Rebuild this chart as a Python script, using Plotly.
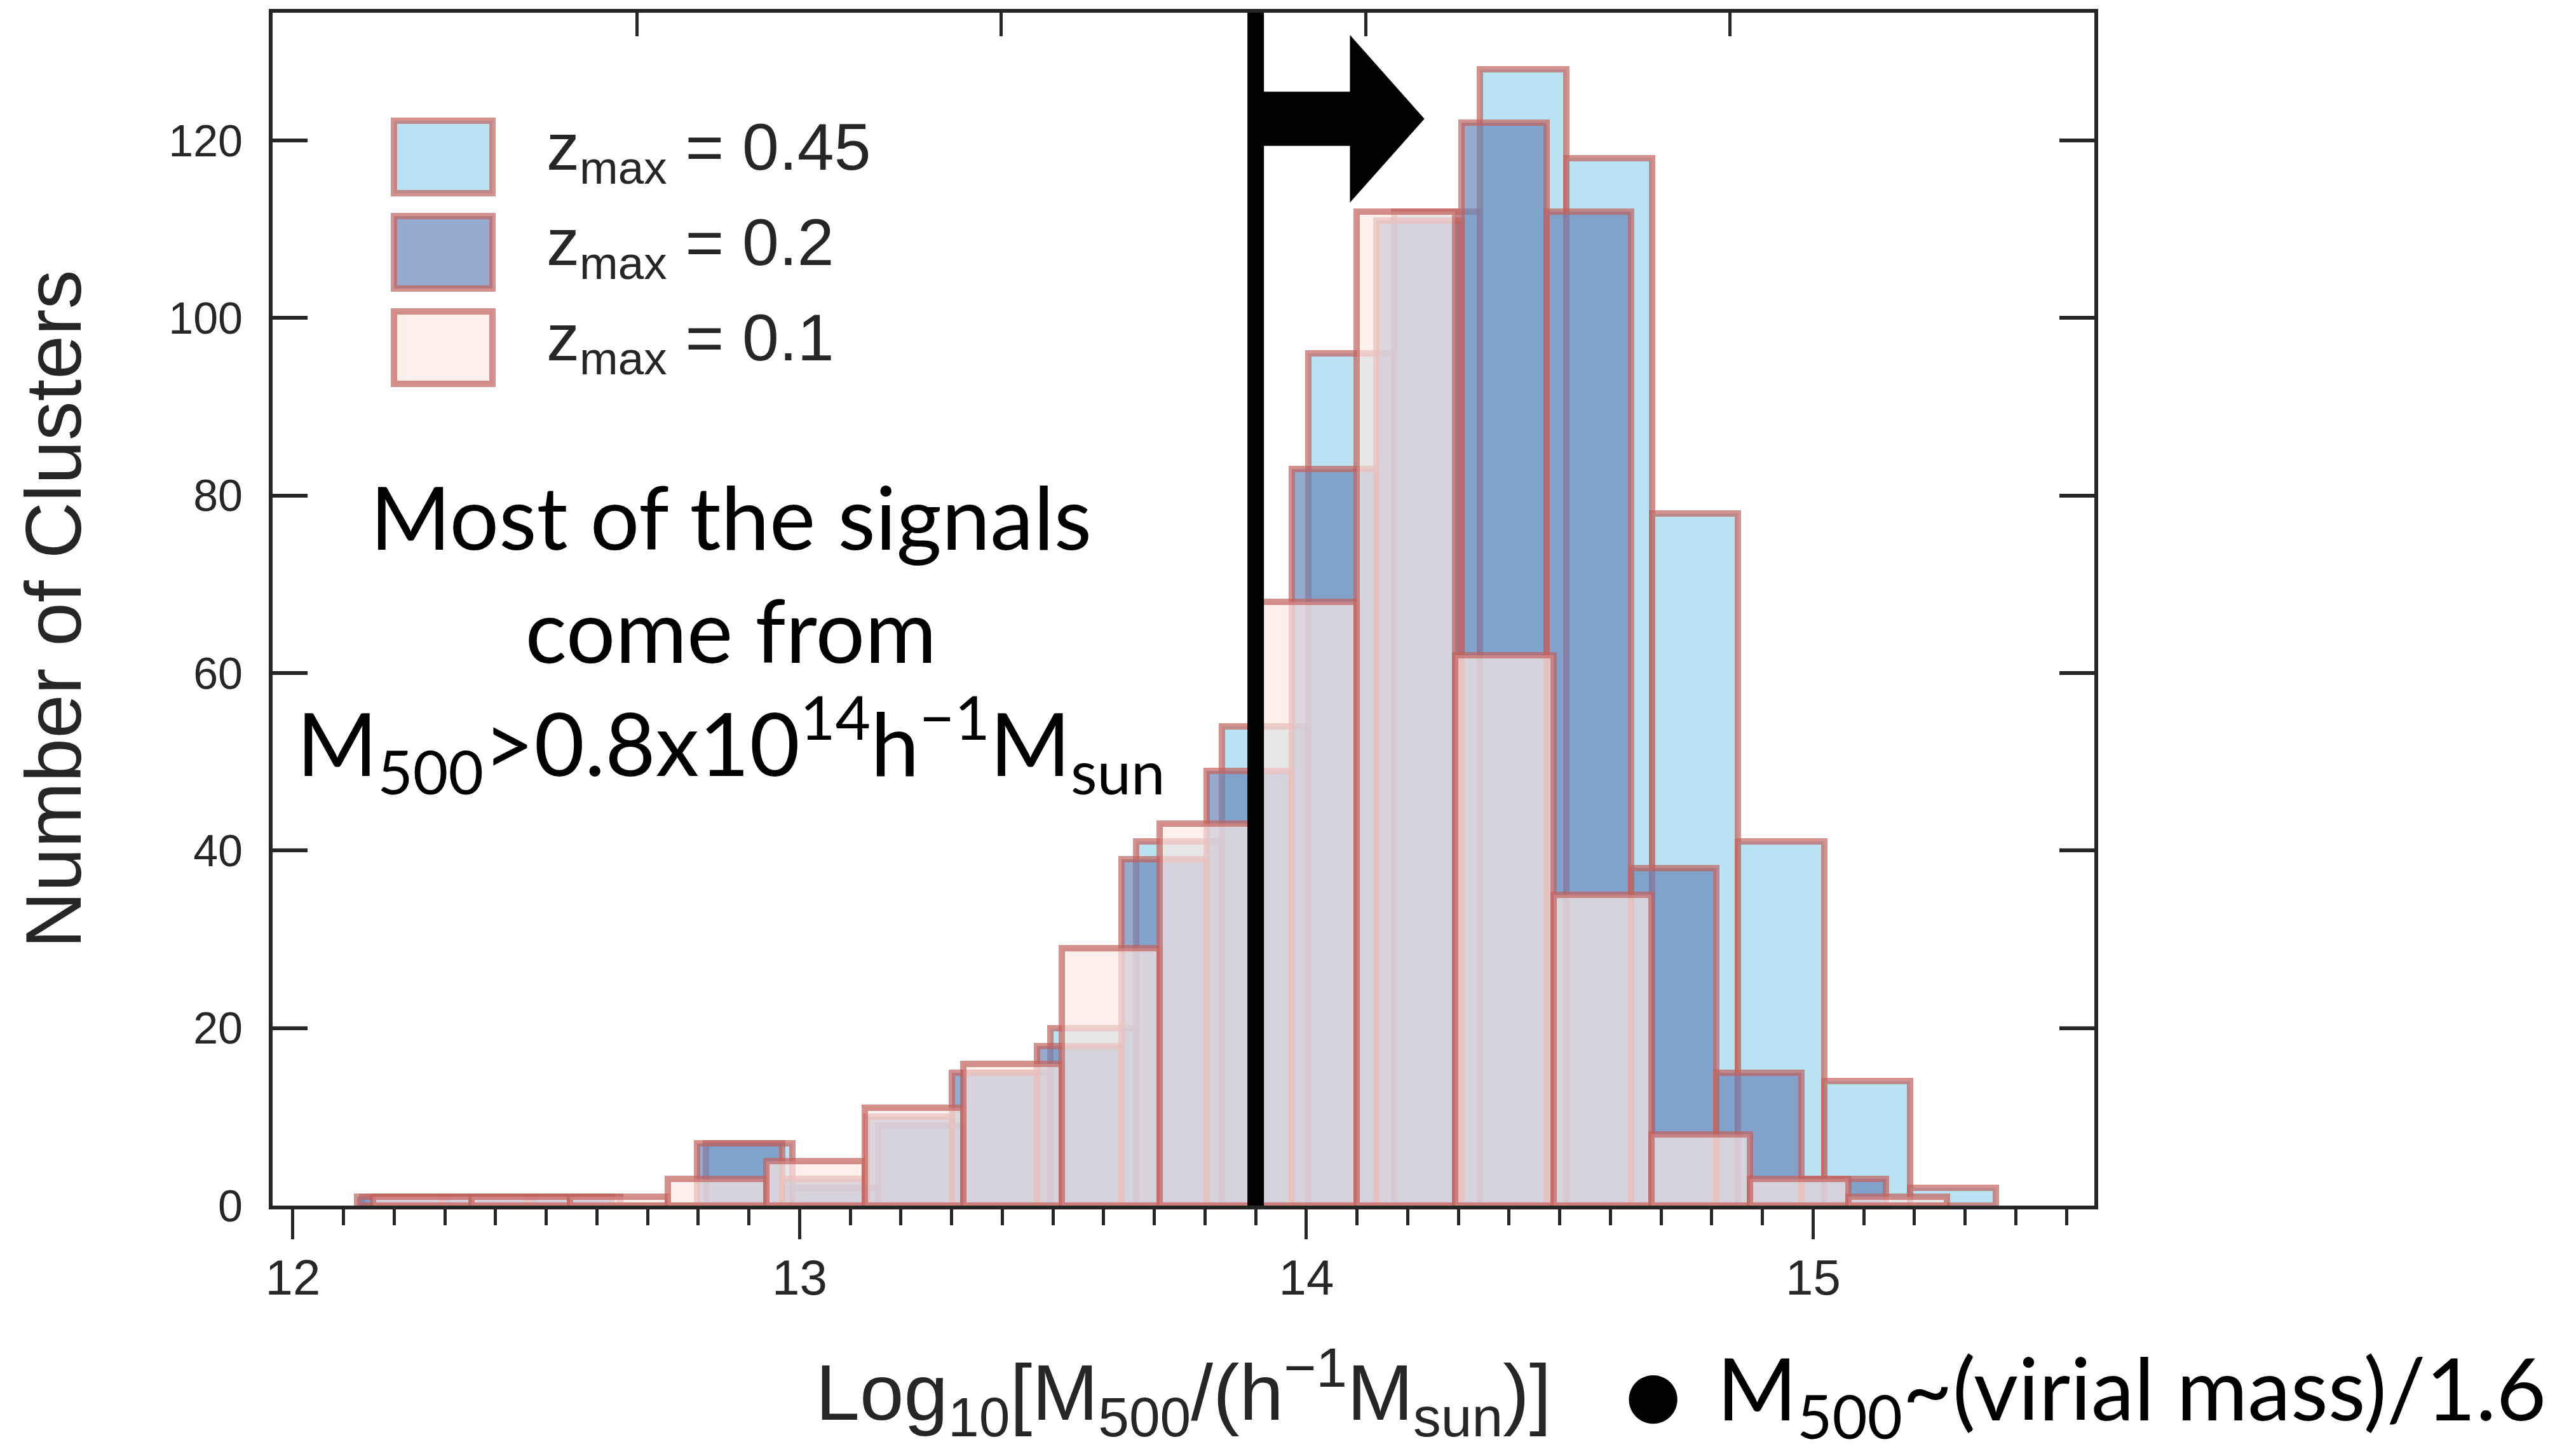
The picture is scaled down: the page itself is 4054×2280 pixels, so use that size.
import numpy as np
import plotly.graph_objects as go

# ---------------- data ----------------
SERIES_NAMES = ["0.45", "0.2", "0.1"]
# bin range (first edge, last edge) of each histogram
Z045_RANGE = (12.137, 15.361)
Z02_RANGE = (12.127, 15.144)
Z01_RANGE = (12.158, 15.264)
# counts per bin
Z045_COUNTS = [1, 1, 1, 0, 7, 2, 9, 15, 20, 41, 54, 96, 112, 128, 118, 78, 41, 14, 2]
Z02_COUNTS = [1, 1, 1, 0, 7, 3, 10, 15, 18, 39, 49, 83, 111, 122, 112, 38, 15, 3]
Z01_COUNTS = [1, 1, 1, 3, 5, 11, 16, 29, 43, 68, 112, 62, 35, 8, 3, 1]

THRESHOLD = 13.9          # log10(0.8e14)
X_TICKS = [12, 13, 14, 15]
Y_TICKS = [0, 20, 40, 60, 80, 100, 120]

# ---------------- style ----------------
W, H = 4054, 2280
ML, MR, MT, MB = 429, 758, 20, 383
XR = [11.960, 15.555]
YR = [0, 134.4]
AX = "#262626"
EDGE = "rgba(194,99,94,0.7)"
FACES = ["rgba(155,215,236,0.7)", "rgba(105,134,185,0.7)", "rgba(251,232,228,0.7)"]
SANS = "Liberation Sans, Arial, sans-serif"
HUM = "Lato, Open Sans, sans-serif"

fig = go.Figure()

for name, rng, counts, face in zip(
        SERIES_NAMES, [Z045_RANGE, Z02_RANGE, Z01_RANGE],
        [Z045_COUNTS, Z02_COUNTS, Z01_COUNTS], FACES):
    edges = np.linspace(rng[0], rng[1], len(counts) + 1)
    centers = 0.5 * (edges[:-1] + edges[1:])
    widths = np.diff(edges)
    fig.add_trace(go.Bar(
        x=centers, y=counts, width=widths, name=name,
        marker=dict(color=face, line=dict(color=EDGE, width=10)),
        showlegend=False,
    ))

# empty trace on the top axis so that it is drawn
fig.add_trace(go.Scatter(x=[], y=[], xaxis="x2", showlegend=False, hoverinfo="skip"))

shapes = []
# threshold line
shapes.append(dict(type="line", xref="x", yref="paper", x0=THRESHOLD, x1=THRESHOLD,
                   y0=0, y1=1, line=dict(color="black", width=26), layer="above"))
# block arrow pointing to higher mass
ax0, axb, axt = THRESHOLD, 14.086, 14.233
yc, sh, hh = 122.45, 3.05, 9.45
arrow = (f"M {ax0},{yc-sh} L {axb},{yc-sh} L {axb},{yc-hh} L {axt},{yc} "
         f"L {axb},{yc+hh} L {axb},{yc+sh} L {ax0},{yc+sh} Z")
shapes.append(dict(type="path", xref="x", yref="y", path=arrow,
                   fillcolor="black", line=dict(width=0), layer="above"))


def px_x(px):
    return (px - ML) / (W - ML - MR)


def px_y(py):
    return (H - MB - py) / (H - MT - MB)


# custom legend
annotations = []
leg_y = [247, 397, 547]
for name, face, yc_px in zip(SERIES_NAMES, FACES, leg_y):
    shapes.append(dict(type="rect", xref="paper", yref="paper",
                       x0=px_x(620), x1=px_x(775), y0=px_y(yc_px + 57), y1=px_y(yc_px - 57),
                       fillcolor=face, line=dict(color=EDGE, width=10), layer="above"))
    annotations.append(dict(xref="paper", yref="paper", x=px_x(858), y=px_y(yc_px - 9),
                            xanchor="left", yanchor="middle", showarrow=False,
                            text=f"z<sub>max</sub> = {name}",
                            font=dict(family=SANS, size=104, color=AX)))

annotations.append(dict(
    xref="paper", yref="paper", x=px_x(1150), y=px_y(1000),
    xanchor="center", yanchor="middle", showarrow=False, align="center",
    text=("Most of the signals<br>come from<br>"
          "M<sub>500</sub>&gt;0.8x10<sup>14</sup>h<sup>−1</sup>M<sub>sun</sub>"),
    font=dict(family=HUM, size=137, color="black")))

# bullet note beside the x-axis title
annotations.append(dict(
    xref="paper", yref="paper", x=px_x(2556), y=px_y(2193),
    xanchor="left", yanchor="middle", showarrow=False,
    text="●", font=dict(family="DejaVu Sans, sans-serif", size=100, color="black")))
annotations.append(dict(
    xref="paper", yref="paper", x=px_x(2700), y=px_y(2192),
    xanchor="left", yanchor="middle", showarrow=False,
    text="M<sub>500</sub>~(virial mass)/1.6",
    font=dict(family=HUM, size=136, color="black")))

fig.update_layout(
    width=W, height=H,
    margin=dict(l=ML, r=MR, t=MT, b=MB, pad=0),
    paper_bgcolor="white", plot_bgcolor="white",
    barmode="overlay", bargap=0,
    shapes=shapes, annotations=annotations,
    xaxis=dict(
        range=XR, tickvals=X_TICKS, ticks="outside", ticklen=47, tickwidth=5,
        tickcolor=AX, showline=True, linecolor=AX, linewidth=6, mirror=True,
        showgrid=False, zeroline=False,
        minor=dict(ticks="outside", dtick=0.1, tick0=12, ticklen=25, tickwidth=5,
                   tickcolor=AX, showgrid=False),
        tickfont=dict(family=SANS, size=78, color=AX), ticklabelstandoff=-7,
        title=dict(text="Log<sub>10</sub>[M<sub>500</sub>/(h<sup>−1</sup>M<sub>sun</sub>)]",
                   font=dict(family=SANS, size=125, color=AX), standoff=96),
    ),
    xaxis2=dict(
        overlaying="x", side="top", anchor="y", range=[0, 5], tickvals=[1, 2, 3, 4],
        ticks="inside", ticklen=37, tickwidth=5, tickcolor=AX,
        showticklabels=False, showgrid=False, zeroline=False, showline=False,
    ),
    yaxis=dict(
        range=YR, tickvals=Y_TICKS, ticks="inside", ticklen=55, tickwidth=6,
        tickcolor=AX, showline=True, linecolor=AX, linewidth=6, mirror="ticks",
        showgrid=False, zeroline=False,
        tickfont=dict(family=SANS, size=70, color=AX), ticklabelstandoff=27,
        title=dict(text="Number of Clusters", font=dict(family=SANS, size=124, color=AX),
                   standoff=98),
    ),
)

fig.write_html("out.html", config={"displayModeBar": False},
               post_script="document.body.style.margin='0px';")
